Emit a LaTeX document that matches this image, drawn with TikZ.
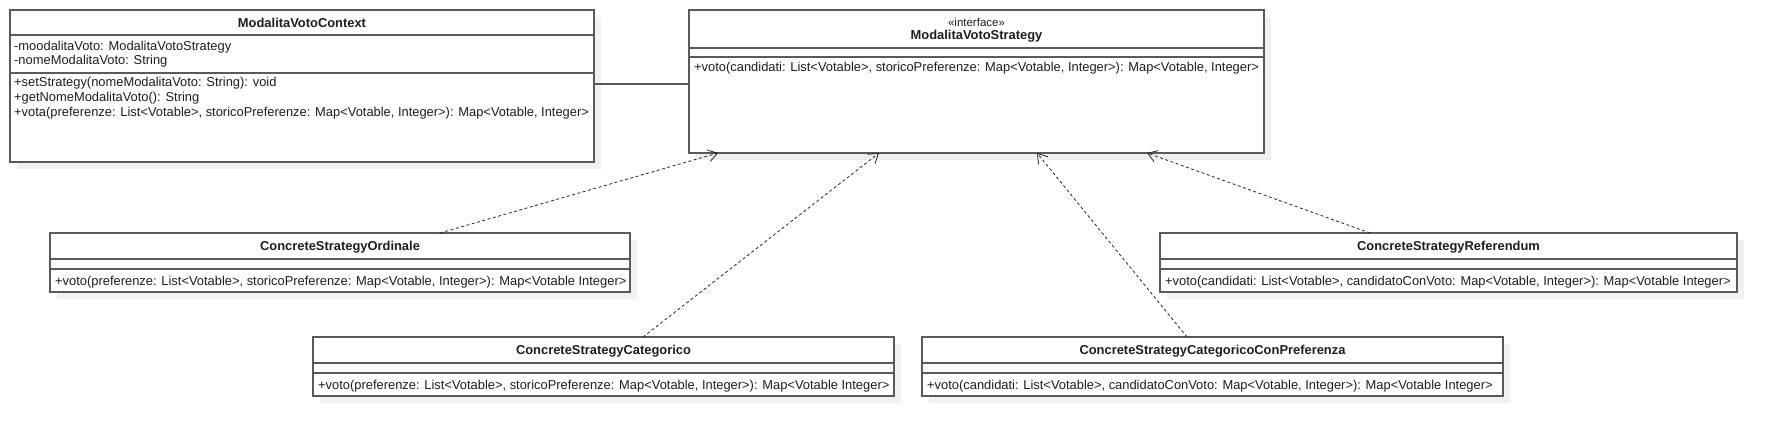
\documentclass[tikz,border=0pt]{standalone}
\usepackage{fontspec}
\setmainfont{Liberation Sans}
\usetikzlibrary{arrows.meta,shadows,calc}
\definecolor{lc}{HTML}{5A5A5A}
\definecolor{shc}{HTML}{F0F0F0}
\definecolor{tc}{HTML}{1E1E1E}
\tikzset{
  classbox/.style={draw=lc, line width=1.3pt, fill=white, anchor=north west,
    inner sep=0pt, outer sep=0pt,
    drop shadow={shadow xshift=7pt, shadow yshift=-7pt, fill=shc, opacity=1}},
  divline/.style={draw=lc, line width=1.6pt},
  txt/.style={anchor=west, inner sep=0pt, text=tc, font=\fontsize{12.9}{15}\selectfont},
  ttl/.style={anchor=center, inner sep=0pt, text=tc, font=\fontsize{12.9}{15}\selectfont\bfseries},
  stereo/.style={anchor=center, inner sep=0pt, text=tc, font=\fontsize{11.5}{13}\selectfont},
  assoc/.style={draw=lc, line width=1.1pt},
  realize/.style={draw=black!85, line width=0.8pt, dash pattern=on 3pt off 2.5pt,
    -{Straight Barb[length=9pt,width=12pt]}}
}
\begin{document}
\begin{tikzpicture}[x=1pt,y=-1pt]
\useasboundingbox (0,0) rectangle (1777,435);

% ModalitaVotoContext
\node[classbox, minimum width=584pt, minimum height=152pt] (ctx) at (10,10) {};
\draw[divline] ([yshift=-25pt]ctx.north west) -- ([yshift=-25pt]ctx.north east);
\draw[divline] ([yshift=-63pt]ctx.north west) -- ([yshift=-63pt]ctx.north east);
\node[ttl] (ctxname) at ([yshift=-13pt]ctx.north) {ModalitaVotoContext};
\node[txt] (ctxa1) at ([shift={(4pt,-37pt)}]ctx.north west) {-moodalitaVoto: ModalitaVotoStrategy};
\node[txt] (ctxa2) at ([shift={(4pt,-51pt)}]ctx.north west) {-nomeModalitaVoto: String};
\node[txt] (ctxm1) at ([shift={(4pt,-73pt)}]ctx.north west) {+setStrategy(nomeModalitaVoto: String): void};
\node[txt] (ctxm2) at ([shift={(4pt,-88pt)}]ctx.north west) {+getNomeModalitaVoto(): String};
\node[txt] (ctxm3) at ([shift={(4pt,-103pt)}]ctx.north west) {+vota(preferenze: List<Votable>, storicoPreferenze: Map<Votable, Integer>): Map<Votable, Integer>};

% ModalitaVotoStrategy
\node[classbox, minimum width=575pt, minimum height=143pt] (strat) at (689,10) {};
\draw[divline] ([yshift=-38pt]strat.north west) -- ([yshift=-38pt]strat.north east);
\draw[divline] ([yshift=-47pt]strat.north west) -- ([yshift=-47pt]strat.north east);
\node[stereo] (stratst) at ([yshift=-12pt]strat.north) {«interface»};
\node[ttl] (stratname) at ([yshift=-26pt]strat.north) {ModalitaVotoStrategy};
\node[txt] (stratm1) at ([shift={(5pt,-58pt)}]strat.north west) {+voto(candidati: List<Votable>, storicoPreferenze: Map<Votable, Integer>): Map<Votable, Integer>};

% ConcreteStrategyOrdinale
\node[classbox, minimum width=580pt, minimum height=59pt] (ord) at (50,233) {};
\draw[divline] ([yshift=-26pt]ord.north west) -- ([yshift=-26pt]ord.north east);
\draw[divline] ([yshift=-36pt]ord.north west) -- ([yshift=-36pt]ord.north east);
\node[ttl] (ordname) at ([yshift=-14pt]ord.north) {ConcreteStrategyOrdinale};
\node[txt] (ordm1) at ([shift={(5pt,-49pt)}]ord.north west) {+voto(preferenze: List<Votable>, storicoPreferenze: Map<Votable, Integer>): Map<Votable Integer>};

% ConcreteStrategyReferendum
\node[classbox, minimum width=577pt, minimum height=59pt] (ref) at (1160,233) {};
\draw[divline] ([yshift=-26pt]ref.north west) -- ([yshift=-26pt]ref.north east);
\draw[divline] ([yshift=-36pt]ref.north west) -- ([yshift=-36pt]ref.north east);
\node[ttl] (refname) at ([yshift=-14pt]ref.north) {ConcreteStrategyReferendum};
\node[txt] (refm1) at ([shift={(5pt,-49pt)}]ref.north west) {+voto(candidati: List<Votable>, candidatoConVoto: Map<Votable, Integer>): Map<Votable Integer>};

% ConcreteStrategyCategorico
\node[classbox, minimum width=581pt, minimum height=59pt] (cat) at (313,337) {};
\draw[divline] ([yshift=-26pt]cat.north west) -- ([yshift=-26pt]cat.north east);
\draw[divline] ([yshift=-36pt]cat.north west) -- ([yshift=-36pt]cat.north east);
\node[ttl] (catname) at ([yshift=-14pt]cat.north) {ConcreteStrategyCategorico};
\node[txt] (catm1) at ([shift={(5pt,-49pt)}]cat.north west) {+voto(preferenze: List<Votable>, storicoPreferenze: Map<Votable, Integer>): Map<Votable Integer>};

% ConcreteStrategyCategoricoConPreferenza
\node[classbox, minimum width=581pt, minimum height=59pt] (ccp) at (922,337) {};
\draw[divline] ([yshift=-26pt]ccp.north west) -- ([yshift=-26pt]ccp.north east);
\draw[divline] ([yshift=-36pt]ccp.north west) -- ([yshift=-36pt]ccp.north east);
\node[ttl] (ccpname) at ([yshift=-14pt]ccp.north) {ConcreteStrategyCategoricoConPreferenza};
\node[txt] (ccpm1) at ([shift={(5pt,-49pt)}]ccp.north west) {+voto(candidati: List<Votable>, candidatoConVoto: Map<Votable, Integer>): Map<Votable Integer>};

% association
\draw[assoc] ([yshift=-74pt]ctx.north east) -- ([yshift=-74pt]strat.north west);

% realizations
\draw[realize] ([xshift=390pt]ord.north west) -- ([xshift=29pt]strat.south west);
\draw[realize] ([xshift=330pt]cat.north west) -- ([xshift=190pt]strat.south west);
\draw[realize] ([xshift=265pt]ccp.north west) -- ([xshift=348pt]strat.south west);
\draw[realize] ([xshift=210pt]ref.north west) -- ([xshift=458pt]strat.south west);
\end{tikzpicture}
\end{document}
